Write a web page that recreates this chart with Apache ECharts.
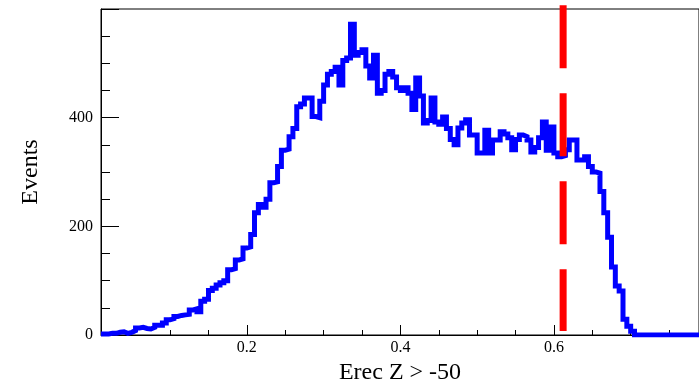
<!DOCTYPE html>
<html>
<head>
<meta charset="utf-8">
<script src="https://cdn.jsdelivr.net/npm/echarts@6/dist/echarts.min.js"></script>
<style>
  html, body { margin: 0; padding: 0; background: #fff; }
  #chart { width: 699px; height: 390px; }
</style>
</head>
<body>
<div id="chart"></div>
<script>
// ---- data ----
const binStart = 0.01;
const binWidth = 0.005;
const xMax = 0.789;
const counts = [
  2, 2, 3, 3, 5, 6, 3, 5, 8, 13,
  14, 12, 11, 14, 18, 18, 22, 28, 30, 34,
  36, 37, 38, 46, 48, 43, 62, 66, 82, 86,
  92, 96, 100, 120, 122, 138, 140, 160, 162, 185,
  225, 240, 235, 250, 280, 282, 310, 340, 342, 365,
  380, 420, 425, 436, 436, 402, 400, 430, 460, 480,
  485, 493, 460, 505, 510, 572, 515, 520, 525, 495,
  473, 515, 445, 450, 480, 485, 475, 455, 450, 455,
  445, 415, 473, 440, 390, 395, 436, 392, 388, 401,
  380, 360, 350, 381, 390, 396, 368, 368, 335, 335,
  377, 335, 359, 359, 374, 370, 363, 341, 360, 368,
  365, 359, 337, 345, 363, 392, 340, 383, 335, 328,
  330, 341, 359, 359, 322, 322, 328, 310, 300, 298,
  264, 225, 180, 125, 90, 81, 29, 16, 7,
  0, 0, 0, 0, 0, 0, 0, 0, 0, 0,
  0, 0, 0, 0, 0, 0, 0, 0, 0
];
const xMajorTicks = [0.2, 0.4, 0.6];
const xMinorTicks = [0.05, 0.1, 0.15, 0.25, 0.3, 0.35, 0.45, 0.5, 0.55, 0.65, 0.7, 0.75];
const yTickInterval = 200;
const cutX = 0.612;
const cutRange = [607, 7.3];
const xTitle = 'Erec Z > -50';
const yTitle = 'Events';

// ---- build ----
const histData = counts.map((c, i) => [binStart + i * binWidth, c]);
histData.push([binStart + counts.length * binWidth, counts[counts.length - 1]]);
const cutData = cutRange.map(v => [cutX, v]);

const FONT = 'Liberation Serif';
const chart = echarts.init(document.getElementById('chart'), null, { renderer: 'canvas' });
chart.setOption({
  animation: false,
  backgroundColor: '#fff',
  grid: {
    left: 101, top: 9, right: 0, bottom: 54,
    show: true, borderColor: '#000', borderWidth: 1, backgroundColor: 'transparent'
  },
  xAxis: [
    {
      type: 'value', min: binStart, max: xMax,
      position: 'bottom',
      name: xTitle, nameLocation: 'middle', nameGap: 26,
      nameTextStyle: { fontFamily: FONT, fontSize: 24, color: '#000' },
      axisLine: { show: true, lineStyle: { color: '#000', width: 1 } },
      axisTick: { show: true, inside: true, length: 10, customValues: xMajorTicks, lineStyle: { color: '#000' } },
      axisLabel: { show: true, customValues: xMajorTicks, margin: 5, fontFamily: FONT, fontSize: 16, color: '#000',
        formatter: v => v.toFixed(1) },
      splitLine: { show: false }
    },
    {
      type: 'value', min: binStart, max: xMax,
      position: 'bottom',
      axisLine: { show: false },
      axisTick: { show: true, inside: true, length: 5, customValues: xMinorTicks, lineStyle: { color: '#000' } },
      axisLabel: { show: false },
      splitLine: { show: false }
    }
  ],
  yAxis: {
    type: 'value', min: 0, max: 600, interval: yTickInterval,
    name: yTitle, nameLocation: 'middle', nameGap: 58, nameRotate: 90,
    nameTextStyle: { fontFamily: FONT, fontSize: 24, color: '#000' },
    axisLine: { show: true, lineStyle: { color: '#000', width: 1 } },
    axisTick: { show: true, inside: true, length: 18, lineStyle: { color: '#000' } },
    minorTick: { show: true, splitNumber: 4, length: 9, lineStyle: { color: '#000' } },
    axisLabel: { margin: 8, fontFamily: FONT, fontSize: 16, color: '#000', showMaxLabel: false,
      formatter: v => (v >= 600 ? '' : String(v)) },
    splitLine: { show: false }
  },
  series: [
    {
      type: 'line', xAxisIndex: 0, data: histData, step: 'end', showSymbol: false, symbol: 'none',
      lineStyle: { color: '#0000ff', width: 5, join: 'miter' }, z: 3
    },
    {
      type: 'line', xAxisIndex: 0, data: cutData, showSymbol: false, symbol: 'none', clip: false,
      lineStyle: { color: '#ff0000', width: 7, type: [63, 25], cap: 'butt' }, z: 4
    }
  ]
});
</script>
</body>
</html>
